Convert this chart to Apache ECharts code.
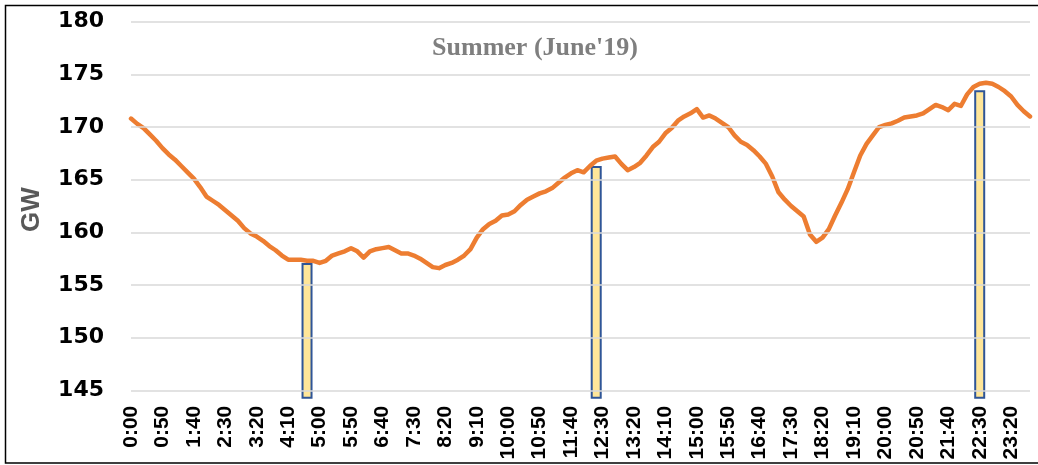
<!DOCTYPE html>
<html>
<head>
<meta charset="utf-8">
<script src="https://cdn.jsdelivr.net/npm/echarts@6/dist/echarts.min.js"></script>
<style>
  html, body { margin: 0; padding: 0; background: #fff; }
  #chart { width: 1038px; height: 465px; }
</style>
</head>
<body>
<div id="chart"></div>
<script>
// 10-minute slots over the day
const times = [];
for (let h = 0; h < 24; h++) {
  for (let m = 0; m < 60; m += 10) {
    times.push(h + ':' + (m === 0 ? '00' : m));
  }
}

// demand in GW
const demand = [
  170.8, 170.3, 169.9, 169.3, 168.7, 168.0, 167.4, 166.9, 166.3, 165.7,
  165.1, 164.3, 163.4, 163.0, 162.6, 162.1, 161.6, 161.1, 160.4, 159.9,
  159.6, 159.2, 158.7, 158.3, 157.8, 157.4, 157.4, 157.4, 157.3, 157.3,
  157.1, 157.3, 157.8, 158.0, 158.2, 158.5, 158.2, 157.6, 158.2, 158.4,
  158.5, 158.6, 158.3, 158.0, 158.0, 157.8, 157.5, 157.1, 156.7, 156.6,
  156.9, 157.1, 157.4, 157.8, 158.4, 159.5, 160.3, 160.8, 161.1, 161.6,
  161.7, 162.0, 162.6, 163.1, 163.4, 163.7, 163.9, 164.2, 164.7, 165.2,
  165.6, 165.9, 165.7, 166.3, 166.8, 167.0, 167.1, 167.2, 166.5, 165.9,
  166.2, 166.6, 167.3, 168.1, 168.6, 169.4, 169.9, 170.6, 171.0, 171.3,
  171.7, 170.9, 171.1, 170.8, 170.4, 170.0, 169.2, 168.6, 168.3, 167.8,
  167.2, 166.5, 165.3, 163.8, 163.1, 162.5, 162.0, 161.5, 159.8, 159.1,
  159.5, 160.3, 161.6, 162.8, 164.1, 165.7, 167.3, 168.4, 169.2, 170.0,
  170.2, 170.35, 170.6, 170.9, 171.0, 171.1, 171.3, 171.7, 172.1, 171.9,
  171.6, 172.2, 172.0, 173.1, 173.8, 174.1, 174.2, 174.1, 173.8, 173.4,
  172.9, 172.1, 171.5, 171.0
];

// highlighted columns
const markTimes = ['4:40', '12:20', '22:30'];
const markValues = [157.1, 166.3, 173.5];

const yTicks = [145, 150, 155, 160, 165, 170, 175, 180];

const barData = times.map(t => {
  const k = markTimes.indexOf(t);
  return k >= 0 ? markValues[k] : null;
});

const chart = echarts.init(document.getElementById('chart'));

chart.setOption({
  animation: false,
  title: {
    text: "Summer (June'19)",
    left: 530,
    top: 30,
    textAlign: 'center',
    textStyle: {
      fontFamily: 'Liberation Serif',
      fontWeight: 'bold',
      fontSize: 26,
      color: '#7f7f7f'
    }
  },
  graphic: [{
    type: 'rect',
    shape: { x: 5.5, y: 5.5, width: 1040, height: 457.5 },
    style: { fill: 'none', stroke: '#000', lineWidth: 1.5 },
    silent: true
  }],
  grid: { left: 131, right: 8, top: 21.7, bottom: 67.3 },
  xAxis: {
    type: 'category',
    data: times,
    boundaryGap: false,
    axisLine: { show: false },
    axisTick: { show: false },
    axisLabel: {
      interval: 4,
      rotate: 90,
      margin: 8,
      fontFamily: 'Liberation Sans',
      fontWeight: 'bold',
      fontSize: 21,
      color: '#000'
    }
  },
  yAxis: {
    type: 'value',
    min: 144.3,
    max: 180,
    name: 'GW',
    nameLocation: 'middle',
    nameGap: 86,
    nameTextStyle: {
      fontFamily: 'Liberation Sans',
      fontWeight: 'bold',
      fontSize: 26,
      color: '#595959'
    },
    axisLine: { show: false },
    axisTick: { show: false },
    splitLine: { show: false },
    axisLabel: {
      customValues: yTicks,
      margin: 27,
      fontFamily: 'DejaVu Sans',
      fontWeight: 'bold',
      fontSize: 22,
      color: '#000'
    }
  },
  series: [
    {
      name: 'grid',
      type: 'line',
      data: [],
      silent: true,
      z: 1,
      markLine: {
        silent: true,
        symbol: 'none',
        label: { show: false },
        lineStyle: { color: '#d9d9d9', width: 1.5, type: 'solid' },
        data: yTicks.map(v => ({ yAxis: v }))
      }
    },
    {
      name: 'Peak',
      type: 'bar',
      data: barData,
      barWidth: 11,
      z: 2,
      itemStyle: { color: '#ffe699', borderColor: '#2f5597', borderWidth: 2 }
    },
    {
      name: 'Demand',
      type: 'line',
      data: demand,
      showSymbol: false,
      z: 3,
      lineStyle: { color: '#ed7d31', width: 4.5, cap: 'round', join: 'round' }
    }
  ]
});
</script>
</body>
</html>
